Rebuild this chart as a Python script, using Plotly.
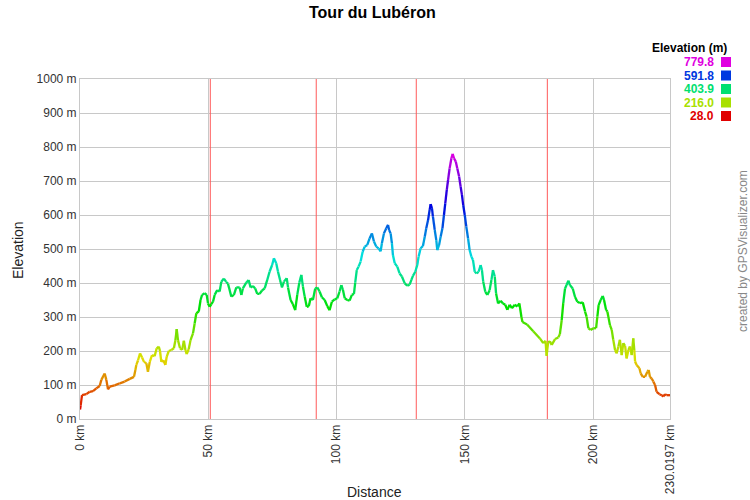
import colorsys
import plotly.graph_objects as go

# ---------------- data ----------------
distance_km = [
    0, 0.26, 0.78, 2.47, 3.77, 5.07, 6.37, 7.67, 8.32, 9.62, 10.27, 10.92, 11.57, 13.5, 15.5,
    17.4, 19.4, 21.05, 21.6, 21.96, 22.6, 23.4, 24.2, 24.95, 25.86, 26.5, 27.2, 28.07, 29.1,
    29.9, 30.7, 31.2, 31.7, 32.5, 33.3, 33.8, 34.6, 35.6, 36.6, 37.2, 37.7, 38.2, 39.0, 39.8,
    40.5, 41.1, 41.6, 42.4, 43.1, 44.05, 44.7, 45.35, 46.3, 47.0, 47.6, 48.6, 49.4, 49.9,
    50.55, 51.2, 51.85, 52.5, 53.5, 54.45, 55.1, 56.1, 57.0, 57.7,
    59.0, 60.0, 60.95, 62.25, 62.9, 63.5, 64.8, 65.75, 66.5, 67.4, 68.3, 69.1, 70.0, 70.95,
    72.0, 73.0, 73.9, 74.9, 75.6, 76.5, 77.2, 78.0, 78.75, 79.5, 80.6, 81.1, 82.1, 83.0,
    83.9, 84.7, 85.5, 86.3, 86.9, 87.6, 88.4, 89.2, 89.9, 90.8, 91.7, 92.5, 93.4, 94.3,
    95.4, 96.4, 97.3, 98.2, 99.3, 100.3, 101.2, 101.9, 102.5, 103.2, 104.2, 105.1, 106.0,
    106.8, 107.3, 107.9, 108.6, 109.4, 110.2, 111.0, 112.0, 112.9, 113.8, 114.6, 115.5, 116.4,
    117.2, 117.7, 118.5, 119.4, 120.1, 120.5, 121.1, 121.6, 122.0, 122.7, 123.7, 124.6,
    125.5, 126.6, 127.6, 128.5, 129.2, 129.8, 130.7, 131.5, 132.0, 132.8, 133.7, 134.4,
    135.0, 135.7, 136.3, 136.7, 137.2, 137.6, 138.3, 138.9, 139.3, 140.0, 140.6, 141.3,
    141.9, 142.4, 143.0, 143.5, 144.1, 144.8, 145.3, 145.8, 146.5, 147.1, 147.8, 148.4,
    148.9, 149.4, 150.0, 150.6, 151.3, 151.9, 152.6, 153.2, 153.9, 154.6, 155.4, 156.2,
    156.7, 157.2, 158.0, 158.8, 159.7, 160.4, 161.0, 161.7, 162.2, 163.0, 164.0, 164.9,
    165.8, 166.6, 167.5, 168.4, 169.5, 170.5, 171.3,
    172.1, 172.5, 174.3, 176.7, 179.3, 180.6, 181.5, 181.9, 182.5, 183.2, 183.9, 185.2,
    186.5, 187.1, 187.8, 188.4, 189.1, 189.7, 190.4, 191.0, 192.1, 193.0, 193.9, 194.9,
    196.0, 196.9, 197.5, 198.2, 199.1, 200.1, 201.2, 201.7, 202.2, 203.0, 203.8, 204.3,
    205.1, 205.6, 206.6, 207.3, 207.9, 208.6, 209.2, 209.9, 210.5, 211.2, 211.8, 212.5,
    213.1, 213.8, 214.4, 215.1, 215.7, 216.1, 216.4, 217.0, 218.1, 218.6, 219.4, 220.3,
    221.2, 221.7, 222.2, 222.9, 223.5, 224.2, 224.8, 225.9, 226.8, 227.4, 228.1, 228.7, 230.0197,
]
elevation_m = [
    28, 40, 70, 73, 80, 82, 90, 97, 115, 134, 115, 87, 95, 99, 105,
    110, 118, 124, 144, 159, 172, 193, 181, 168, 164, 139, 168, 188, 185,
    208, 213, 200, 168, 173, 159, 183, 200, 203, 208, 232, 264, 232, 208, 203,
    230, 203, 191, 206, 232, 252, 281, 311, 316, 350, 365, 370, 365, 340,
    330, 338, 345, 365, 379, 375, 404, 413, 403, 398,
    360, 365, 387, 387, 365, 384, 401, 409, 387, 391, 384, 368, 368, 378,
    384, 409, 433, 453, 473, 458, 433, 409, 387, 404, 414, 387, 350, 338,
    320, 365, 401, 424, 390, 360, 330, 332, 355, 350, 384, 387, 375, 358,
    350, 332, 320, 345, 352, 355, 375, 394, 380, 355, 350, 348, 365,
    368, 401, 438, 448, 463, 492, 507, 512, 531, 546, 522, 507, 502,
    493, 517, 546, 561, 571, 556, 546, 517, 482, 458, 448, 428,
    419, 399, 392, 395, 409, 421, 433, 453, 477, 502, 509, 536,
    561, 585, 615, 632, 620, 595, 556, 526, 497, 512, 536, 561,
    600, 634, 674, 703, 737, 767, 779.8, 767, 757, 737, 713, 683,
    659, 629, 600, 566, 531, 497, 477, 468, 433, 428, 433, 453,
    438, 404, 374, 365, 379, 409, 438, 419, 370, 340, 348, 340,
    336, 321, 336, 326, 336, 331, 340,
    300, 285, 278, 258, 237, 223, 230, 186, 225, 229, 218, 235,
    240, 250, 291, 341, 384, 394, 407, 394, 384, 359, 345, 341,
    343, 316, 301, 267, 262, 267, 267, 301, 335, 350, 362, 350,
    321, 316, 276, 262, 233, 203, 193, 213, 233, 188, 223, 215,
    178, 203, 213, 188, 237, 203, 169, 159, 149, 134, 124, 124,
    139, 144, 124, 119, 110, 100, 80, 73, 70, 66, 73, 70, 70,
]
split_km = [50.8, 92.1, 131.1, 182.2]
legend_values = [779.8, 591.8, 403.9, 216.0, 28.0]
y_ticks = [0, 100, 200, 300, 400, 500, 600, 700, 800, 900, 1000]
y_tick_labels = [f"{v} m" for v in y_ticks]
x_ticks = [0, 50, 100, 150, 200, 230.0197]
x_tick_labels = ["0 km", "50 km", "100 km", "150 km", "200 km", "230.0197 km"]

ELEV_MIN, ELEV_MAX = 28.0, 779.8
FONT = "Liberation Sans, Arial, sans-serif"


def elev_color(e):
    t = min(max((e - ELEV_MIN) / (ELEV_MAX - ELEV_MIN), 0.0), 1.0)
    r, g, b = colorsys.hsv_to_rgb(t * 300.0 / 360.0, 1.0, 0.88)
    return f"rgb({round(r * 255)},{round(g * 255)},{round(b * 255)})"


fig = go.Figure()

# red split lines
for k in split_km:
    fig.add_trace(go.Scatter(x=[k, k], y=[0, 1000], mode="lines",
                             line=dict(color="rgb(255,90,90)", width=1),
                             hoverinfo="skip", showlegend=False))

# elevation profile coloured by height
for i in range(len(distance_km) - 1):
    e_mid = (elevation_m[i] + elevation_m[i + 1]) / 2
    fig.add_trace(go.Scatter(
        x=distance_km[i:i + 2], y=elevation_m[i:i + 2], mode="lines",
        line=dict(color=elev_color(e_mid), width=2.3),
        hoverinfo="skip", showlegend=False))

# plot area: x 80..670, y 79..419 px
def px_x(px):
    return (px - 80) / 590.0


def px_y(py):
    return (419 - py) / 340.0


annotations = [
    dict(text="<b>Tour du Lubéron</b>", x=px_x(372), y=px_y(12), xref="paper", yref="paper",
         showarrow=False, font=dict(size=16, color="black", family=FONT),
         xanchor="center", yanchor="middle"),
    dict(text="Distance", x=px_x(374), y=px_y(492), xref="paper", yref="paper",
         showarrow=False, font=dict(size=14, color="#222", family=FONT),
         xanchor="center", yanchor="middle"),
    dict(text="Elevation", x=px_x(18), y=px_y(250), xref="paper", yref="paper",
         showarrow=False, textangle=-90, font=dict(size=14, color="#222", family=FONT),
         xanchor="center", yanchor="middle"),
    dict(text="created by GPSVisualizer.com", x=px_x(743), y=px_y(251), xref="paper",
         yref="paper", showarrow=False, textangle=-90,
         font=dict(size=12, color="#888888", family=FONT),
         xanchor="center", yanchor="middle"),
    dict(text="<b>Elevation (m)</b>", x=px_x(729), y=px_y(48), xref="paper", yref="paper",
         showarrow=False, font=dict(size=12, color="black", family=FONT),
         xanchor="right", yanchor="middle"),
]
shapes = []
row_y = [62, 75.5, 89, 102.5, 116]
for v, ry in zip(legend_values, row_y):
    c = elev_color(v)
    annotations.append(dict(text=f"<b>{v:.1f}</b>", x=px_x(716), y=px_y(ry), xref="paper",
                            yref="paper", showarrow=False,
                            font=dict(size=12, color=c, family=FONT),
                            xanchor="right", yanchor="middle"))
    shapes.append(dict(type="rect", xref="paper", yref="paper",
                       x0=px_x(721), x1=px_x(731), y0=px_y(ry + 5), y1=px_y(ry - 5),
                       fillcolor=c, line=dict(width=0)))

fig.update_layout(
    width=750, height=500,
    margin=dict(l=80, r=80, t=79, b=81),
    paper_bgcolor="white", plot_bgcolor="white",
    font=dict(family=FONT, size=12, color="#333"),
    showlegend=False,
    annotations=annotations,
    shapes=shapes,
    xaxis=dict(range=[0, 230.0197], tickvals=x_ticks, ticktext=x_tick_labels,
               tickangle=-90, showgrid=True, gridcolor="#c8c8c8", gridwidth=1,
               zeroline=False, showline=True, linecolor="#c8c8c8", mirror=True,
               automargin=False,
               ticks="", tickfont=dict(size=12, color="#333", family=FONT)),
    yaxis=dict(range=[0, 1000], tickvals=y_ticks, ticktext=y_tick_labels,
               showgrid=True, gridcolor="#c8c8c8", gridwidth=1,
               zeroline=False, showline=True, linecolor="#c8c8c8", mirror=True,
               automargin=False,
               ticks="", tickfont=dict(size=12, color="#333", family=FONT)),
)

fig.write_html("out.html", config={"displayModeBar": False},
               post_script="document.body.style.margin='0px';")
